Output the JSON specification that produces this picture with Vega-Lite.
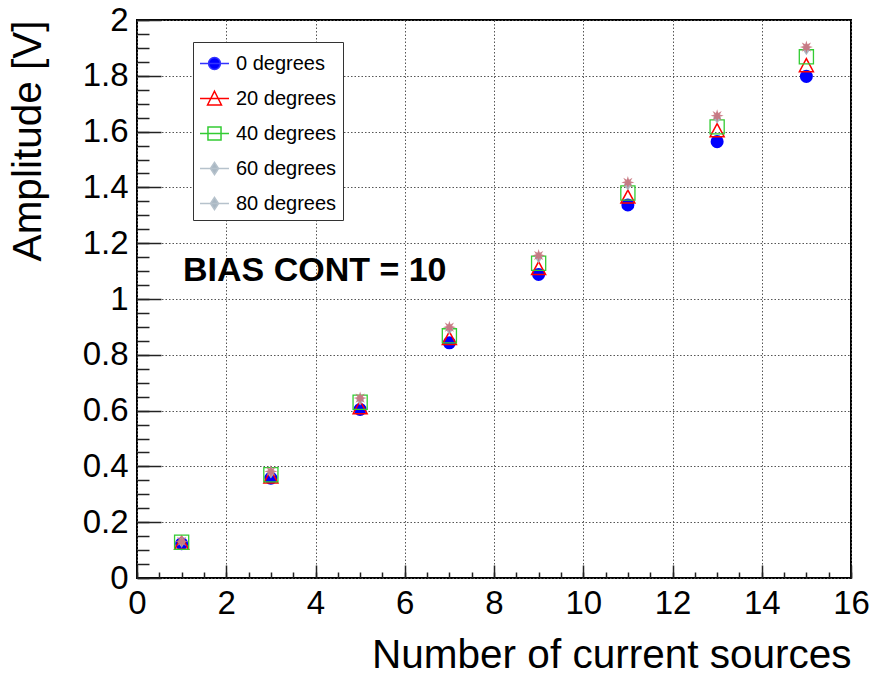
{
  "$schema": "https://vega.github.io/schema/vega-lite/v6.json",
  "width": 714,
  "height": 558,
  "autosize": {"type": "none"},
  "padding": {"left": 137, "top": 20, "right": 23, "bottom": 98},
  "config": {
    "font": "Liberation Sans",
    "view": {"stroke": "black", "strokeWidth": 2},
    "axis": {"labelColor": "black", "titleColor": "black", "titleFontWeight": "normal", "domain": false}
  },
  "data": {
    "values": [
      {"x": 1, "series": "0 degrees", "v": 0.123}, {"x": 3, "series": "0 degrees", "v": 0.358}, {"x": 5, "series": "0 degrees", "v": 0.604}, {"x": 7, "series": "0 degrees", "v": 0.843},
      {"x": 9, "series": "0 degrees", "v": 1.088}, {"x": 11, "series": "0 degrees", "v": 1.337}, {"x": 13, "series": "0 degrees", "v": 1.564}, {"x": 15, "series": "0 degrees", "v": 1.798},
      {"x": 1, "series": "20 degrees", "v": 0.126}, {"x": 3, "series": "20 degrees", "v": 0.364}, {"x": 5, "series": "20 degrees", "v": 0.612}, {"x": 7, "series": "20 degrees", "v": 0.86},
      {"x": 9, "series": "20 degrees", "v": 1.111}, {"x": 11, "series": "20 degrees", "v": 1.367}, {"x": 13, "series": "20 degrees", "v": 1.605}, {"x": 15, "series": "20 degrees", "v": 1.838},
      {"x": 1, "series": "40 degrees", "v": 0.128}, {"x": 3, "series": "40 degrees", "v": 0.37}, {"x": 5, "series": "40 degrees", "v": 0.63}, {"x": 7, "series": "40 degrees", "v": 0.868},
      {"x": 9, "series": "40 degrees", "v": 1.128}, {"x": 11, "series": "40 degrees", "v": 1.38}, {"x": 13, "series": "40 degrees", "v": 1.617}, {"x": 15, "series": "40 degrees", "v": 1.868},
      {"x": 1, "series": "60 degrees", "v": 0.13}, {"x": 3, "series": "60 degrees", "v": 0.378}, {"x": 5, "series": "60 degrees", "v": 0.64}, {"x": 7, "series": "60 degrees", "v": 0.893},
      {"x": 9, "series": "60 degrees", "v": 1.15}, {"x": 11, "series": "60 degrees", "v": 1.41}, {"x": 13, "series": "60 degrees", "v": 1.65}, {"x": 15, "series": "60 degrees", "v": 1.895},
      {"x": 1, "series": "80 degrees", "v": 0.131}, {"x": 3, "series": "80 degrees", "v": 0.382}, {"x": 5, "series": "80 degrees", "v": 0.645}, {"x": 7, "series": "80 degrees", "v": 0.899},
      {"x": 9, "series": "80 degrees", "v": 1.156}, {"x": 11, "series": "80 degrees", "v": 1.418}, {"x": 13, "series": "80 degrees", "v": 1.657}, {"x": 15, "series": "80 degrees", "v": 1.903}
    ]
  },
  "resolve": {"axis": {"x": "independent", "y": "independent"}},
  "layer": [
    {
      "transform": [{"filter": "datum.x < 0"}],
      "mark": {"type": "point", "filled": true, "opacity": 1},
      "encoding": {
        "x": {"field": "x", "type": "quantitative", "scale": {"domain": [0, 16], "nice": false},
          "axis": {"orient": "bottom", "values": [0,0.5,1,1.5,2,2.5,3,3.5,4,4.5,5,5.5,6,6.5,7,7.5,8,8.5,9,9.5,10,10.5,11,11.5,12,12.5,13,13.5,14,14.5,15,15.5,16],
            "labels": false, "grid": false, "tickSize": -6, "tickWidth": 1.5, "tickColor": "#222", "title": null}},
        "y": {"field": "v", "type": "quantitative", "scale": {"domain": [0, 2], "nice": false},
          "axis": {"orient": "left", "values": [0,0.05,0.1,0.15,0.2,0.25,0.3,0.35,0.4,0.45,0.5,0.55,0.6,0.65,0.7,0.75,0.8,0.85,0.9,0.95,1,1.05,1.1,1.15,1.2,1.25,1.3,1.35,1.4,1.45,1.5,1.55,1.6,1.65,1.7,1.75,1.8,1.85,1.9,1.95,2],
            "labels": false, "grid": false, "tickSize": -12, "tickWidth": 1.5, "tickColor": "#222", "title": null}},
        "shape": {"field": "series", "type": "nominal",
          "scale": {"domain": ["0 degrees", "20 degrees", "40 degrees", "60 degrees", "80 degrees"],
            "range": [
              "M-1,0H1M-0.41,0A0.41,0.41,0,1,1,0.41,0A0.41,0.41,0,1,1,-0.41,0Z",
              "M-1,0H1M0,-0.5L0.48,0.45L-0.48,0.45Z",
              "M-1,0H1M-0.45,-0.45H0.45V0.45H-0.45Z",
              "M-1,0H1M0,-0.42L0.28,0L0,0.42L-0.28,0Z",
              "M-1,0H1M0,-0.42L0.28,0L0,0.42L-0.28,0Z"
            ]},
          "legend": {
            "title": null, "orient": "none", "legendX": 56, "legendY": 22,
            "padding": 6, "fillColor": "white", "strokeColor": "#333",
            "symbolSize": 841, "symbolStrokeWidth": 1.5, "symbolOpacity": 1,
            "labelFontSize": 20, "labelColor": "black", "labelOffset": 6, "rowPadding": 9,
            "labelExpr": "datum.label + '\u2007'"
          }},
        "fill": {"field": "series", "type": "nominal",
          "scale": {"domain": ["0 degrees", "20 degrees", "40 degrees", "60 degrees", "80 degrees"],
            "range": ["#0000ff", "transparent", "transparent", "#a9b7c3", "#a9b7c3"]}},
        "stroke": {"field": "series", "type": "nominal",
          "scale": {"domain": ["0 degrees", "20 degrees", "40 degrees", "60 degrees", "80 degrees"],
            "range": ["#3333ff", "#ff0000", "#33cc33", "#b6c2cc", "#b6c2cc"]}}
      }
    },
    {
      "transform": [{"filter": "datum.series == '0 degrees'"}],
      "mark": {"type": "point", "shape": "circle", "size": 170, "filled": true, "color": "#0000ff", "opacity": 1, "strokeWidth": 0},
      "encoding": {
        "x": {"field": "x", "type": "quantitative",
          "axis": {"orient": "bottom", "values": [0,2,4,6,8,10,12,14,16], "labelFontSize": 33, "labelPadding": 22, "labelFlush": false, "labelOverlap": false,
            "tickSize": -13, "tickWidth": 1.5, "tickColor": "#222",
            "grid": true, "gridDash": [1.5, 2], "gridColor": "#555", "gridWidth": 1,
            "title": "Number of current sources", "titleFontSize": 40.5, "titleAnchor": "end", "titleAlign": "right", "titleBaseline": "alphabetic", "titleX": 714, "titleY": 89}},
        "y": {"field": "v", "type": "quantitative",
          "axis": {"orient": "left", "values": [0,0.2,0.4,0.6,0.8,1,1.2,1.4,1.6,1.8,2], "format": "~g", "labelFontSize": 33, "labelPadding": 33, "labelFlush": false, "labelOverlap": false,
            "tickSize": -24, "tickWidth": 1.5, "tickColor": "#222",
            "grid": true, "gridDash": [1.5, 2], "gridColor": "#555", "gridWidth": 1,
            "title": "Amplitude [V]", "titleFontSize": 40.5, "titleAngle": 270, "titleAnchor": "end", "titleAlign": "right", "titleBaseline": "alphabetic", "titleX": -97, "titleY": 0}}
      }
    },
    {
      "transform": [{"filter": "datum.series == '20 degrees'"}],
      "mark": {"type": "point", "shape": "M0,-0.93L1,0.93L-1,0.93Z", "size": 196, "filled": false, "stroke": "#ff0000", "strokeWidth": 1.5, "opacity": 1},
      "encoding": {
        "x": {"field": "x", "type": "quantitative", "axis": null},
        "y": {"field": "v", "type": "quantitative", "axis": null}
      }
    },
    {
      "transform": [{"filter": "datum.series == '40 degrees'"}],
      "mark": {"type": "point", "shape": "square", "size": 200, "filled": false, "stroke": "#33cc33", "strokeWidth": 1.3, "opacity": 1},
      "encoding": {
        "x": {"field": "x", "type": "quantitative", "axis": null},
        "y": {"field": "v", "type": "quantitative", "axis": null}
      }
    },
    {
      "transform": [{"filter": "datum.series == '60 degrees'"}],
      "mark": {"type": "point", "shape": "M0,-1L0.65,0L0,1L-0.65,0Z", "size": 144, "filled": true, "color": "#a9b7c3", "opacity": 1},
      "encoding": {
        "x": {"field": "x", "type": "quantitative", "axis": null},
        "y": {"field": "v", "type": "quantitative", "axis": null}
      }
    },
    {
      "transform": [{"filter": "datum.series == '80 degrees'"}],
      "mark": {"type": "point", "shape": "M0,-1L0.172,-0.416L0.707,-0.707L0.416,-0.172L1,0L0.416,0.172L0.707,0.707L0.172,0.416L0,1L-0.172,0.416L-0.707,0.707L-0.416,0.172L-1,0L-0.416,-0.172L-0.707,-0.707L-0.172,-0.416Z", "size": 169, "filled": true, "color": "#c8737d", "opacity": 0.9},
      "encoding": {
        "x": {"field": "x", "type": "quantitative", "axis": null},
        "y": {"field": "v", "type": "quantitative", "axis": null}
      }
    },
    {
      "data": {"values": [{"tx": 1.03, "ty": 1.1, "label": "BIAS CONT = 10"}]},
      "mark": {"type": "text", "align": "left", "baseline": "middle", "fontSize": 34, "fontWeight": "bold", "color": "black"},
      "encoding": {
        "x": {"field": "tx", "type": "quantitative", "axis": null},
        "y": {"field": "ty", "type": "quantitative", "axis": null},
        "text": {"field": "label"}
      }
    }
  ]
}
